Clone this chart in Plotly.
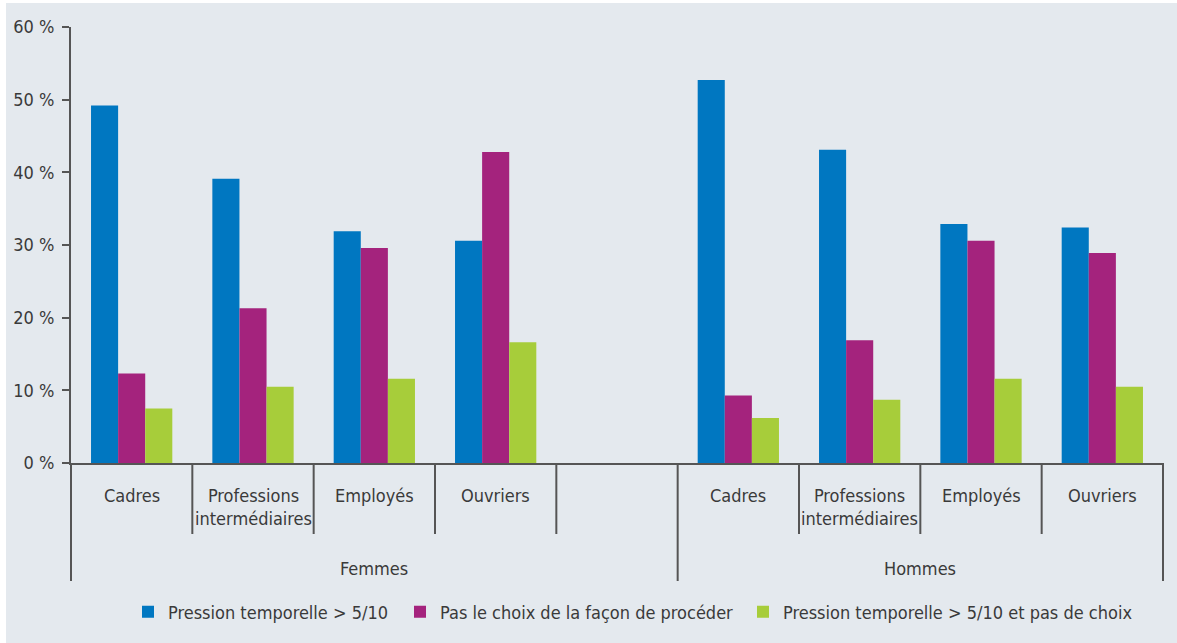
import plotly.graph_objects as go

# Categories
groups = ["Femmes", "Hommes"]
professions = ["Cadres", "Professions intermédiaires", "Employés", "Ouvriers"]
profession_labels = ["Cadres", "Professions<br>intermédiaires", "Employés", "Ouvriers"]

# Series values (%)
pression_femmes = [49.2, 39.1, 31.9, 30.6]
pression_hommes = [52.7, 43.1, 32.9, 32.4]
choix_femmes = [12.3, 21.3, 29.6, 42.8]
choix_hommes = [9.3, 16.9, 30.6, 28.9]
cumul_femmes = [7.5, 10.5, 11.6, 16.6]
cumul_hommes = [6.2, 8.7, 11.6, 10.5]

series_names = [
    "Pression temporelle > 5/10",
    "Pas le choix de la façon de procéder",
    "Pression temporelle > 5/10 et pas de choix",
]
series_colors = ["#0077c1", "#a4237d", "#a7cd3a"]

y_ticks = [0, 10, 20, 30, 40, 50, 60]
y_tick_text = [f"{v}\u00a0%" for v in y_ticks]

FONT = "Liberation Sans Narrow, DejaVu Sans Condensed, Arial Narrow, sans-serif"
TEXT = "#3a3a3a"
LINE = "#555555"
BG = "#e4e9ee"

W, H = 1177, 643
M_L, M_R, M_T, M_B = 71, 14, 27, 180
plot_w = W - M_L - M_R
plot_h = H - M_T - M_B


def key(g, p):
    return f"{g} | {p}"


# Femmes has a trailing empty slot before Hommes
cat_order = [key("Femmes", p) for p in professions] + ["Femmes | "] + \
            [key("Hommes", p) for p in professions]
n_slots = len(cat_order)
x_min, x_max = -0.5, n_slots - 0.5

series_values = [
    pression_femmes + pression_hommes,
    choix_femmes + choix_hommes,
    cumul_femmes + cumul_hommes,
]
x_keys = [key("Femmes", p) for p in professions] + [key("Hommes", p) for p in professions]

fig = go.Figure()
legend_ids = ["legend", "legend2", "legend3"]
for name, color, vals, lg in zip(series_names, series_colors, series_values, legend_ids):
    fig.add_trace(go.Bar(
        x=x_keys, y=vals, name=name, marker_color=color,
        marker_line_width=0, legend=lg,
    ))


def paper_x(i):
    return (i - x_min) / (x_max - x_min)


def paper_x_px(p):
    return (p - M_L) / plot_w


def paper_y_px(p):
    return (H - M_B - p) / plot_h


annotations = []
shapes = []

# Background panel with a thin white frame on the top and left edges
shapes.append(dict(type="rect", xref="paper", yref="paper", layer="below",
                   x0=paper_x_px(6), x1=paper_x_px(W + 2),
                   y0=paper_y_px(H + 2), y1=paper_y_px(3),
                   fillcolor=BG, line=dict(width=0)))

# Profession labels
for g in groups:
    for p, lab in zip(professions, profession_labels):
        idx = cat_order.index(key(g, p))
        annotations.append(dict(
            x=idx, xref="x", y=0, yref="paper", yanchor="top", yshift=-20,
            text=lab, showarrow=False, font=dict(family=FONT, size=18, color=TEXT),
        ))

# Group labels
group_spans = {"Femmes": (x_min, 4.5), "Hommes": (4.5, x_max)}
for g, (a, b) in group_spans.items():
    annotations.append(dict(
        x=(a + b) / 2, xref="x", y=0, yref="paper", yanchor="middle", yshift=-105,
        text=g, showarrow=False, font=dict(family=FONT, size=18, color=TEXT),
    ))

# Dividers below the x axis
tall = -118 / plot_h
short = -71 / plot_h
for b in [x_min, 4.5, x_max]:
    shapes.append(dict(type="line", xref="paper", yref="paper", x0=paper_x(b), x1=paper_x(b),
                       y0=0, y1=tall, line=dict(color=LINE, width=2)))
for b in [0.5, 1.5, 2.5, 3.5, 5.5, 6.5, 7.5]:
    shapes.append(dict(type="line", xref="paper", yref="paper", x0=paper_x(b), x1=paper_x(b),
                       y0=0, y1=short, line=dict(color=LINE, width=2)))

legend_common = dict(
    orientation="h", yanchor="middle", y=paper_y_px(612), xanchor="left",
    bgcolor="rgba(0,0,0,0)", borderwidth=0,
    font=dict(family=FONT, size=18, color=TEXT),
)
legend_x = [paper_x_px(128), paper_x_px(400), paper_x_px(743)]

fig.update_layout(
    width=W, height=H,
    margin=dict(l=M_L, r=M_R, t=M_T, b=M_B),
    paper_bgcolor="#ffffff", plot_bgcolor="rgba(0,0,0,0)",
    barmode="group", bargap=0.33, bargroupgap=0,
    font=dict(family=FONT, size=18, color=TEXT),
    showlegend=True,
    legend=dict(legend_common, x=legend_x[0]),
    legend2=dict(legend_common, x=legend_x[1]),
    legend3=dict(legend_common, x=legend_x[2]),
    annotations=annotations,
    shapes=shapes,
    xaxis=dict(
        type="category", categoryorder="array", categoryarray=cat_order,
        range=[x_min, x_max], showticklabels=False, ticks="",
        showgrid=False, zeroline=False,
        showline=True, linecolor=LINE, linewidth=2,
    ),
    yaxis=dict(
        range=[0, 60], tickmode="array", tickvals=y_ticks, ticktext=y_tick_text,
        ticks="outside", ticklen=7, tickwidth=2, tickcolor=LINE,
        ticklabelstandoff=4,
        showgrid=False, zeroline=False,
        showline=True, linecolor=LINE, linewidth=2,
        tickfont=dict(family=FONT, size=18, color=TEXT),
    ),
)

fig.write_html("out.html")
